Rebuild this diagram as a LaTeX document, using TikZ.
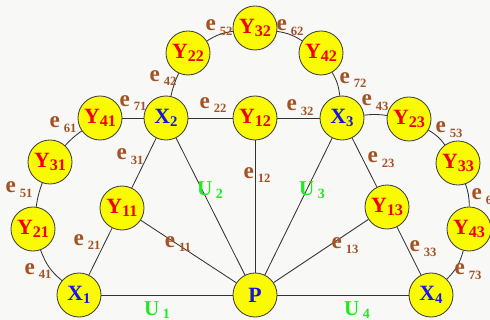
\documentclass[tikz,border=0pt]{standalone}
\usepackage{fontspec}
\setmainfont{Liberation Serif}
\usepackage{tikz}
\usetikzlibrary{positioning}
\definecolor{nodeYellow}{RGB}{250,250,0}
\definecolor{inkRed}{RGB}{240,0,0}
\definecolor{inkBlue}{RGB}{20,20,235}
\definecolor{edgeBrown}{RGB}{165,82,35}
\definecolor{flowGreen}{RGB}{30,235,30}
\definecolor{paper}{RGB}{248,249,247}
\newcommand{\ynd}[1]{\textcolor{inkRed}{Y\raisebox{-0.35ex}{\fontsize{11.5}{11}\selectfont#1}}}
\newcommand{\xnd}[1]{\textcolor{inkBlue}{X\raisebox{-0.3ex}{\fontsize{10.5}{11}\selectfont#1}}}
\newcommand{\elab}[1]{e\,\raisebox{-0.45ex}{\fontsize{9}{9}\selectfont#1}}
\newcommand{\ulab}[1]{U\,\raisebox{-0.3ex}{\fontsize{10}{10}\selectfont#1}}

\begin{document}
\begin{tikzpicture}[x=0.025cm,y=0.025cm,
    vert/.style={circle,draw=black!75,fill=nodeYellow,line width=0.6pt,
      minimum size=1.1cm,inner sep=0pt,font=\fontsize{15.5}{15}\selectfont\bfseries},
    elabel/.style={text=edgeBrown,inner sep=0pt,font=\fontsize{16.5}{16}\selectfont\bfseries},
    ulabel/.style={text=flowGreen,inner sep=0pt,font=\fontsize{15}{15}\selectfont\bfseries},
    link/.style={draw=black!80,line width=0.6pt}]
  \fill[paper] (0,0) rectangle (490,320);
  \useasboundingbox (0,0) rectangle (490,320);
  % ---- vertices
  \node[vert] (X1) at (79,25) {\xnd{1}};
  \node[vert] (P) at (255,25) {\textcolor{inkBlue}{P}};
  \node[vert] (X4) at (431,25) {\xnd{4}};
  \node[vert] (X2) at (166,202) {\xnd{2}};
  \node[vert] (X3) at (342,202) {\xnd{3}};
  \node[vert] (Y11) at (122,112) {\ynd{11}};
  \node[vert] (Y12) at (255,202) {\ynd{12}};
  \node[vert] (Y13) at (387,113) {\ynd{13}};
  \node[vert] (Y21) at (33,91) {\ynd{21}};
  \node[vert] (Y31) at (50,158) {\ynd{31}};
  \node[vert] (Y41) at (100,202) {\ynd{41}};
  \node[vert] (Y22) at (188,267) {\ynd{22}};
  \node[vert] (Y32) at (255,292) {\ynd{32}};
  \node[vert] (Y42) at (321,267) {\ynd{42}};
  \node[vert] (Y23) at (409,201) {\ynd{23}};
  \node[vert] (Y33) at (458,157) {\ynd{33}};
  \node[vert] (Y43) at (469,91) {\ynd{43}};
  % ---- inner links
  \draw[link] (X1) -- (P);
  \draw[link] (P) -- (X4);
  \draw[link] (P) -- (X2);
  \draw[link] (P) -- (X3);
  \draw[link] (P) -- (Y11);
  \draw[link] (P) -- (Y12);
  \draw[link] (P) -- (Y13);
  \draw[link] (X1) -- (Y11);
  \draw[link] (Y11) -- (X2);
  \draw[link] (X2) -- (Y12);
  \draw[link] (Y12) -- (X3);
  \draw[link] (X3) -- (Y13);
  \draw[link] (Y13) -- (X4);
  % ---- outer ring
  \draw[link] (X1) to[bend left=15] (Y21);
  \draw[link] (Y21) to[bend left=6] (Y31);
  \draw[link] (Y31) to[bend left=6] (Y41);
  \draw[link] (Y41) -- (X2);
  \draw[link] (X2) to[bend left=6] (Y22);
  \draw[link] (Y22) to[bend left=12] (Y32);
  \draw[link] (Y32) to[bend left=12] (Y42);
  \draw[link] (Y42) to[bend left=12] (X3);
  \draw[link] (X3) to[bend left=8] (Y23);
  \draw[link] (Y23) to[bend left=12] (Y33);
  \draw[link] (Y33) to[bend left=10] (Y43);
  \draw[link] (Y43) to[bend left=15] (X4);
  % ---- labels
  \node[elabel] (e11) at (178,76) {\elab{11}};
  \node[elabel] (e12) at (257,145) {\elab{12}};
  \node[elabel] (e13) at (345,74) {\elab{13}};
  \node[elabel] (e21) at (87,78) {\elab{21}};
  \node[elabel] (e31) at (130,163) {\elab{31}};
  \node[elabel] (e22) at (213,215) {\elab{22}};
  \node[elabel] (e32) at (300,212) {\elab{32}};
  \node[elabel] (e23) at (381,160) {\elab{23}};
  \node[elabel] (e33) at (423,71) {\elab{33}};
  \node[elabel] (e41) at (38,49) {\elab{41}};
  \node[elabel] (e51) at (19,130) {\elab{51}};
  \node[elabel] (e61) at (63,195) {\elab{61}};
  \node[elabel] (e71) at (133,217) {\elab{71}};
  \node[elabel] (e42) at (163,242) {\elab{42}};
  \node[elabel] (e52) at (219,292) {\elab{52}};
  \node[elabel] (e62) at (290,292) {\elab{62}};
  \node[elabel] (e72) at (353,240) {\elab{72}};
  \node[elabel] (e43) at (375,217) {\elab{43}};
  \node[elabel] (e53) at (449,190) {\elab{53}};
  \node[elabel] (e63) at (485,123) {\elab{63}};
  \node[elabel] (e73) at (468,48) {\elab{73}};
  \node[ulabel] (U1) at (157,10) {\ulab{1}};
  \node[ulabel] (U2) at (210,130) {\ulab{2}};
  \node[ulabel] (U3) at (312,130) {\ulab{3}};
  \node[ulabel] (U4) at (357,10) {\ulab{4}};
\end{tikzpicture}
\end{document}
